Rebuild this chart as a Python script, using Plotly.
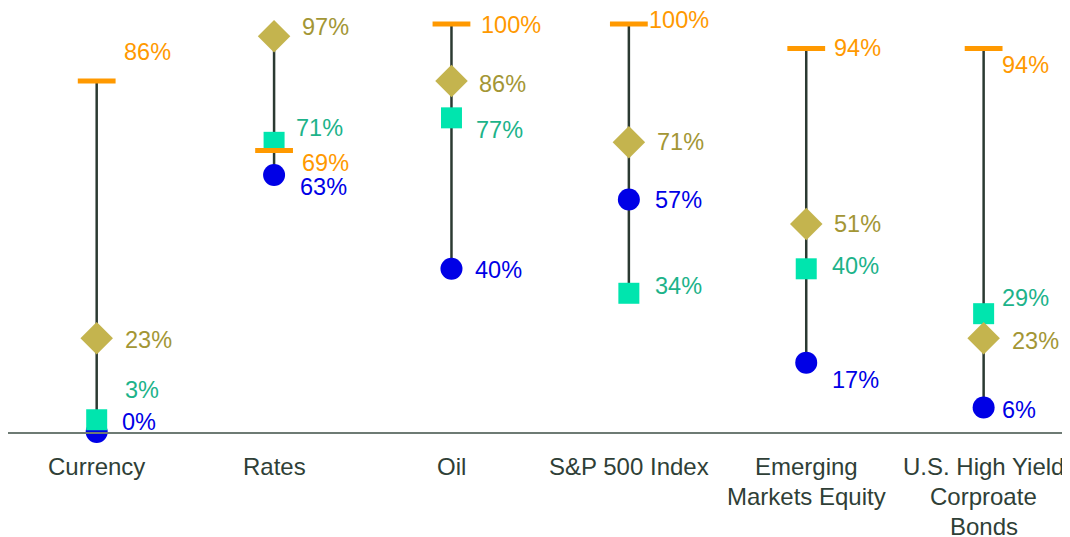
import plotly.graph_objects as go

categories = ["Currency", "Rates", "Oil", "S&P 500 Index",
              "Emerging<br>Markets Equity", "U.S. High Yield<br>Corproate<br>Bonds"]
cat_keys = ["Currency", "Rates", "Oil", "S&P 500", "EM Equity", "HY Bonds"]

series_circle = [0, 63, 40, 57, 17, 6]
series_square = [3, 71, 77, 34, 40, 29]
series_diamond = [23, 97, 86, 71, 51, 23]
series_dash = [86, 69, 100, 100, 94, 94]

# label offsets in pixels (styling): (xshift, yshift) per category
label_off_circle = [(26, 10), (27, -12), (25, -1), (27, -1), (27, -17), (19, -2)]
label_off_square = [(29, 30), (23, 14), (26, -12), (27, 7), (27, 3), (19, 16)]
label_off_diamond = [(29, -2), (29, 9), (29, -3), (29, 0), (29, 0), (29, -3)]
label_off_dash = [(28, 29), (29, -13), (31, -1), (21, 4), (29, 0), (19, -17)]

FONT = "Liberation Sans, Arial, sans-serif"
fig = go.Figure()

# vertical range lines
xs, ys = [], []
for i, k in enumerate(cat_keys):
    vals = [series_circle[i], series_square[i], series_diamond[i], series_dash[i]]
    xs += [k, k, None]
    ys += [min(vals), max(vals), None]
fig.add_trace(go.Scatter(x=xs, y=ys, mode="lines", line=dict(color="#2B3A32", width=2.5),
                         hoverinfo="skip", showlegend=False, cliponaxis=False))

specs = [
    ("Circle", series_circle, dict(symbol="circle", size=22, color="#0000E6"), "#0000E6", label_off_circle),
    ("Square", series_square, dict(symbol="square", size=21, color="#00E5AE"), "#1DB38A", label_off_square),
    ("Diamond", series_diamond, dict(symbol="diamond", size=25, color="#C4B44E"), "#A39635", label_off_diamond),
    ("Dash", series_dash, dict(symbol="line-ew", size=27, color="#FF9900",
                               line=dict(color="#FF9900", width=5)), "#FF9900", label_off_dash),
]
for name, vals, mk, tc, offs in specs:
    fig.add_trace(go.Scatter(x=cat_keys, y=vals, mode="markers", marker=mk, name=name,
                             showlegend=False, cliponaxis=False))
    for i, v in enumerate(vals):
        dx, dy = offs[i]
        fig.add_annotation(x=cat_keys[i], y=v, text=f"{v}%", showarrow=False,
                           xanchor="left", yanchor="middle", xshift=dx - 3, yshift=dy,
                           font=dict(family=FONT, size=23.5, color=tc))

# category labels (one text line per annotation to control line spacing)
for k, lab in zip(cat_keys, categories):
    for j, line in enumerate(lab.split("<br>")):
        fig.add_annotation(x=k, y=0, yref="paper", text=line, showarrow=False,
                           xanchor="center", yanchor="middle", yshift=-34 - 30.3 * j,
                           font=dict(family=FONT, size=24, color="#2F3F37"))

fig.update_layout(
    width=1070, height=537, plot_bgcolor="white", paper_bgcolor="white",
    margin=dict(l=0, r=0, t=0, b=113),
    font=dict(family=FONT),
)
fig.update_xaxes(type="category", tickmode="array", tickvals=cat_keys,
                 range=[-0.5, 5.532], showline=True, linecolor="#6E7B74", linewidth=2,
                 showgrid=False, ticks="", zeroline=False, showticklabels=False)
fig.update_yaxes(range=[0, 103.92], visible=False, showgrid=False, zeroline=False)

fig.write_html("out.html")
